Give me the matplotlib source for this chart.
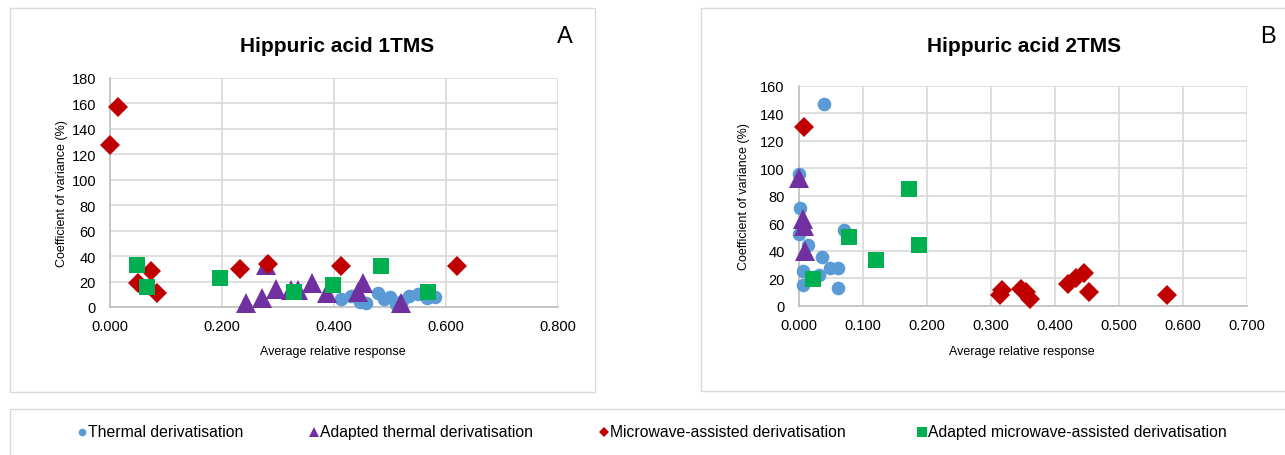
import matplotlib
matplotlib.use("Agg")
import matplotlib.pyplot as plt
from matplotlib.patches import Rectangle
from matplotlib.lines import Line2D

plt.rcParams['font.family'] = ['Liberation Sans', 'DejaVu Sans']

# ---- data -------------------------------------------------------------
series_names = ["Thermal derivatisation",
                "Adapted thermal derivatisation",
                "Microwave-assisted derivatisation",
                "Adapted microwave-assisted derivatisation"]

# Panel A: Hippuric acid 1TMS  (x = average relative response, y = CV %)
a_thermal_x = [0.412, 0.430, 0.447, 0.457, 0.478, 0.490, 0.500, 0.510, 0.522, 0.534, 0.550, 0.566, 0.580]
a_thermal_y = [6, 9, 4, 3, 11, 6, 8, 2, 5, 9, 10, 7, 8]
a_adapted_thermal_x = [0.242, 0.272, 0.278, 0.296, 0.323, 0.335, 0.360, 0.388, 0.442, 0.451, 0.520]
a_adapted_thermal_y = [3.5, 7, 33, 14, 13, 13, 19, 11, 12, 19, 3]
a_microwave_x = [0.000, 0.015, 0.050, 0.073, 0.084, 0.233, 0.283, 0.412, 0.620]
a_microwave_y = [127, 157, 19, 28, 11, 30, 34, 32, 32]
a_adapted_microwave_x = [0.048, 0.066, 0.197, 0.329, 0.398, 0.484, 0.567]
a_adapted_microwave_y = [33, 16, 22.5, 12, 17, 32, 11.5]

# Panel B: Hippuric acid 2TMS
b_thermal_x = [0.040, 0.001, 0.002, 0.001, 0.015, 0.007, 0.007, 0.037, 0.049, 0.062, 0.061, 0.071, 0.031]
b_thermal_y = [147, 96, 71, 52, 44, 25, 15, 35, 27, 27, 13, 55, 22]
b_adapted_thermal_x = [0.001, 0.007, 0.009, 0.010]
b_adapted_thermal_y = [93, 63, 58, 40]
b_microwave_x = [0.009, 0.315, 0.318, 0.348, 0.355, 0.361, 0.421, 0.434, 0.446, 0.454, 0.575]
b_microwave_y = [130, 8, 11, 12, 10, 5, 16, 20, 24, 10, 8]
b_adapted_microwave_x = [0.022, 0.078, 0.121, 0.173, 0.188]
b_adapted_microwave_y = [19, 50, 33, 85, 44]

a_xticks = [0.0, 0.2, 0.4, 0.6, 0.8]
a_yticks = list(range(0, 181, 20))
b_xticks = [0.0, 0.1, 0.2, 0.3, 0.4, 0.5, 0.6, 0.7]
b_yticks = list(range(0, 161, 20))

# ---- styling ----------------------------------------------------------
colors = ["#5B9BD5", "#7030A0", "#C00000", "#00B050"]
markers = ["o", "^", "D", "s"]
msizes = [9.8, 14, 9.7, 12]
grid_c = "#D9D9D9"
text_c = "#000000"

W, H = 1285, 456
fig = plt.figure(figsize=(W / 100, H / 100), dpi=100)


def fx(px):
    return px / W


def fy(py):
    return 1 - py / H


# frames around the two chart panels and the shared legend
for (x0, y0, x1, y1) in [(10, 9, 595, 393), (701, 9, 1295, 392), (10, 410, 1295, 466)]:
    fig.add_artist(Rectangle((fx(x0), fy(y1)), fx(x1 - x0), (y1 - y0) / H,
                             transform=fig.transFigure, fill=False,
                             edgecolor=grid_c, linewidth=1.0))


def panel(rect, xs, ys, xticks, yticks, title, letter, title_xy, letter_xy,
          xlabel_xy, ylabel_xy):
    ax = fig.add_axes(rect)
    for i in range(4):
        ax.plot(xs[i], ys[i], linestyle="none", marker=markers[i],
                markersize=msizes[i], color=colors[i], markeredgewidth=0,
                clip_on=False, zorder=3 + i)
    ax.set_xlim(xticks[0], xticks[-1])
    ax.set_ylim(yticks[0], yticks[-1])
    ax.set_xticks(xticks)
    ax.set_yticks(yticks)
    ax.set_xticklabels([f"{t:.3f}" for t in xticks])
    ax.set_yticklabels([str(t) for t in yticks])
    ax.tick_params(axis="both", length=0, labelsize=10.5, colors=text_c)
    ax.tick_params(axis="x", pad=9)
    ax.tick_params(axis="y", pad=10)
    ax.grid(True, color=grid_c, linewidth=1.2)
    ax.set_axisbelow(True)
    for s in ["top", "right"]:
        ax.spines[s].set_visible(False)
    for s in ["left", "bottom"]:
        ax.spines[s].set_color("#BFBFBF")
        ax.spines[s].set_linewidth(1.2)
    fig.text(fx(title_xy[0]), fy(title_xy[1]), title, ha="center", va="center",
             fontsize=15, fontweight="bold")
    fig.text(fx(letter_xy[0]), fy(letter_xy[1]), letter, ha="center", va="center",
             fontsize=17)
    fig.text(fx(xlabel_xy[0]), fy(xlabel_xy[1]), "Average relative response",
             ha="center", va="center", fontsize=9)
    fig.text(fx(ylabel_xy[0]), fy(ylabel_xy[1]), "Coefficient of variance (%)",
             ha="center", va="center", fontsize=9, rotation=90)
    return ax


panel([fx(110), fy(308), 448 / W, 229 / H],
      [a_thermal_x, a_adapted_thermal_x, a_microwave_x, a_adapted_microwave_x],
      [a_thermal_y, a_adapted_thermal_y, a_microwave_y, a_adapted_microwave_y],
      a_xticks, a_yticks, "Hippuric acid 1TMS", "A",
      (337, 46), (565, 37), (333, 352), (62, 194))

panel([fx(798.7), fy(306.5), 448 / W, 219.5 / H],
      [b_thermal_x, b_adapted_thermal_x, b_microwave_x, b_adapted_microwave_x],
      [b_thermal_y, b_adapted_thermal_y, b_microwave_y, b_adapted_microwave_y],
      b_xticks, b_yticks, "Hippuric acid 2TMS", "B",
      (1024, 46), (1268, 37), (1022, 352), (744, 197))

# shared legend row
legend_marker_x = [82, 314, 604, 922]
legend_ms = [5.5, 6.5, 5.0, 6.5]
ly = 433
for i, name in enumerate(series_names):
    fig.add_artist(Line2D([fx(legend_marker_x[i])], [fy(ly)], transform=fig.transFigure,
                          linestyle="none", marker=markers[i], markersize=legend_ms[i],
                          color=colors[i], markeredgewidth=0))
    fig.text(fx(legend_marker_x[i] + 6), fy(ly), name, ha="left", va="center",
             fontsize=11.3)

fig.savefig("out.png", dpi=100)
